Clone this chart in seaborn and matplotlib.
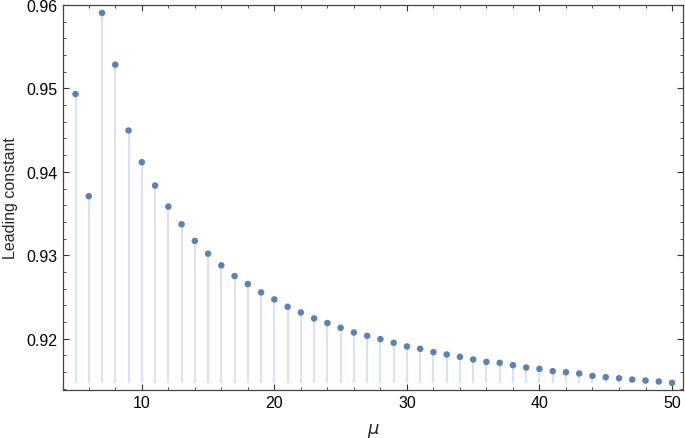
import matplotlib
matplotlib.use("Agg")
import matplotlib.pyplot as plt
from matplotlib.ticker import MultipleLocator
import seaborn as sns
import pandas as pd

# values
mu = list(range(5, 51))
leading_constant = [
    0.94932, 0.93708, 0.95904, 0.95284, 0.94496, 0.94116, 0.93836, 0.93584,
    0.93372, 0.93172, 0.93020, 0.92880, 0.92752, 0.92656, 0.92556, 0.92472,
    0.92384, 0.92316, 0.92244, 0.92188, 0.92132, 0.92076, 0.92036, 0.91996,
    0.91952, 0.91908, 0.91880, 0.91840, 0.91812, 0.91784, 0.91752, 0.91724,
    0.91712, 0.91684, 0.91656, 0.91640, 0.91612, 0.91600, 0.91584, 0.91556,
    0.91540, 0.91528, 0.91512, 0.91500, 0.91488, 0.91472,
]
df = pd.DataFrame({"mu": mu, "c": leading_constant})

sns.set_style("ticks")
plt.rcParams["font.family"] = ["Liberation Sans", "DejaVu Sans"]

fig = plt.figure(figsize=(6.85, 4.39), dpi=100)
ax = fig.add_axes([0.0915, 0.110, 0.906, 0.8765])

# stems fill down to the smallest value (Mathematica Filling -> Axis style)
base = min(leading_constant)
ax.vlines(df["mu"], base, df["c"], color="#dde2f0", lw=1.6, zorder=1)
sns.scatterplot(data=df, x="mu", y="c", ax=ax, color="#5e81b5", s=22,
                edgecolor="none", zorder=2)

ax.set_xlim(4.03, 50.85)
ax.set_ylim(0.9139, 0.96)
ax.xaxis.set_major_locator(MultipleLocator(10))
ax.xaxis.set_minor_locator(MultipleLocator(2))
ax.yaxis.set_major_locator(MultipleLocator(0.01))
ax.yaxis.set_minor_locator(MultipleLocator(0.002))
ax.yaxis.set_major_formatter(matplotlib.ticker.FormatStrFormatter("%.2f"))

ax.tick_params(which="both", direction="in", top=True, right=True,
               colors="#333333", labelcolor="black", labelsize=11.5)
ax.tick_params(which="major", length=4.5, width=0.8)
ax.tick_params(which="minor", length=2.5, width=0.6)
for sp in ax.spines.values():
    sp.set_color("#444444")
    sp.set_linewidth(0.9)

ax.set_xlabel(r"$\mu$", fontsize=13, labelpad=8)
ax.set_ylabel("Leading constant", fontsize=11.5, labelpad=6)

fig.savefig("out.png", dpi=100)
